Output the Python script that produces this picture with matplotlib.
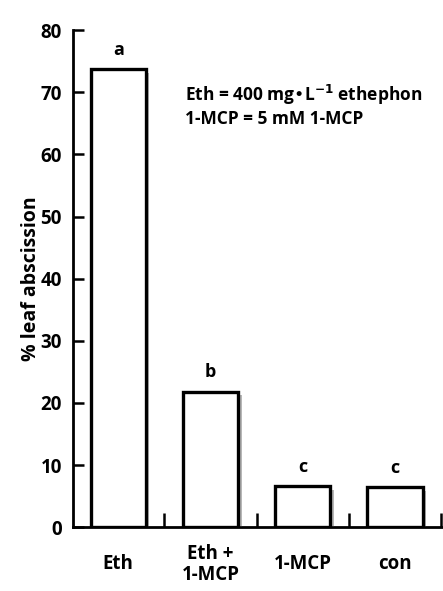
import matplotlib.pyplot as plt
import matplotlib.patheffects as pe

# data
treatments = ['Eth', 'Eth +\n1-MCP', '1-MCP', 'con']
abscission = [73.7, 21.8, 6.6, 6.4]
letters = ['a', 'b', 'c', 'c']

plt.rcParams['font.family'] = ['Open Sans', 'DejaVu Sans']
plt.rcParams['font.weight'] = 'bold'

fig = plt.figure(figsize=(4.43, 5.91), dpi=100)
ax = fig.add_axes([0.165, 0.108, 0.835, 0.841])

xpos = list(range(len(treatments)))
bars = ax.bar(xpos, abscission, width=0.6, color='white', edgecolor='black',
              linewidth=2.4, zorder=3)
for b in bars:
    b.set_path_effects([pe.SimplePatchShadow(offset=(2.5, -2.5), shadow_rgbFace='0.2', alpha=0.35),
                        pe.Normal()])

# significance letters
for x, v, l in zip(xpos, abscission, letters):
    ax.text(x, v + 1.7, l, ha='center', va='bottom', fontsize=13, fontweight='bold')

ax.text(0.72, 67.9, 'Eth = 400 mg\u2022L$^{\\mathbf{-1}}$ ethephon\n1-MCP = 5 mM 1-MCP',
        ha='left', va='center', fontsize=12.5, fontweight='bold', linespacing=1.2)

ax.set_xlim(-0.49, 3.52)
ax.set_ylim(0, 80)
ax.set_yticks(range(0, 81, 10))
ax.set_xticks([0.5, 1.5, 2.5, 3.5])
ax.set_xticklabels([])
ax.tick_params(axis='y', direction='in', length=8, width=1.8, labelsize=13.5, pad=8)
ax.tick_params(axis='x', direction='in', length=10, width=1.8)
for x, t in zip(xpos, treatments):
    ax.text(x, -6.0, t, ha='center', va='center', fontsize=13.5, fontweight='bold',
            linespacing=1.1)

for s in ['top', 'right']:
    ax.spines[s].set_visible(False)
for s in ['left', 'bottom']:
    ax.spines[s].set_linewidth(2)
ax.set_ylabel('% leaf abscission', fontsize=14, fontweight='bold', labelpad=0)

fig.savefig('out.png', dpi=100)
